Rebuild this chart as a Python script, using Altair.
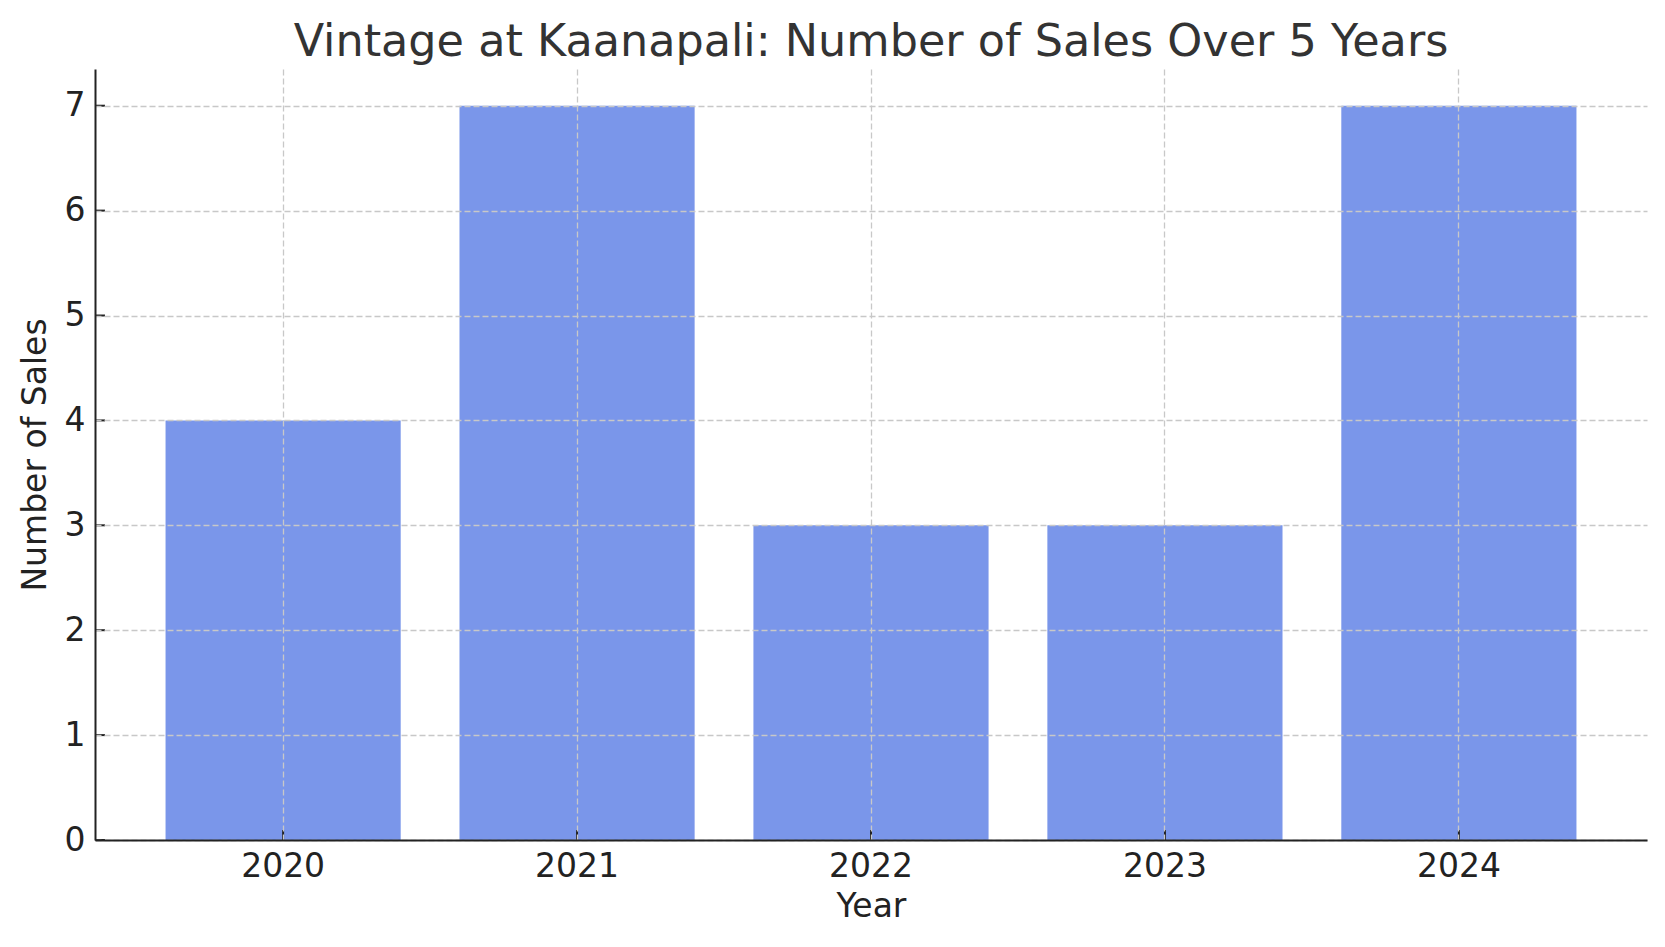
import altair as alt
import pandas as pd

years = ["2020", "2021", "2022", "2023", "2024"]
sales = [4, 7, 3, 3, 7]
y_tick_values = [0, 1, 2, 3, 4, 5, 6, 7]

df = pd.DataFrame({"Year": years, "Sales": sales})
yticks_df = pd.DataFrame({"v": y_tick_values})

FONT = "DejaVu Sans"
W, H = 1552, 771

x_scale = alt.Scale(domain=years, paddingInner=0.2, paddingOuter=0.24)
y_scale = alt.Scale(domain=[0, 7.35], nice=False, zero=True)

bars = alt.Chart(df).mark_bar(color="#7A96EA").encode(
    x=alt.X(
        "Year:N",
        scale=x_scale,
        sort=years,
        axis=alt.Axis(
            title="Year",
            labelAngle=0,
            labelFont=FONT,
            labelFontSize=33,
            labelColor="#222222",
            labelPadding=10,
            ticks=False,
            domainColor="#222222",
            domainWidth=2,
            grid=True,
            gridColor="#c8c8c8",
            gridDash=[6, 3],
            gridWidth=1.3,
            bandPosition=0.5,
            zindex=1,
            titleFont=FONT,
            titleFontSize=33,
            titleFontWeight="normal",
            titleColor="#222222",
            titlePadding=7,
        ),
    ),
    y=alt.Y(
        "Sales:Q",
        scale=y_scale,
        axis=alt.Axis(
            title="Number of Sales",
            values=y_tick_values,
            format="d",
            labelFont=FONT,
            labelFontSize=33,
            labelColor="#222222",
            labelPadding=10,
            ticks=False,
            domainColor="#222222",
            domainWidth=2,
            grid=True,
            gridColor="#c8c8c8",
            gridDash=[6, 3],
            gridWidth=1.3,
            zindex=1,
            titleFont=FONT,
            titleFontSize=33,
            titleFontWeight="normal",
            titleColor="#222222",
            titlePadding=12,
        ),
    ),
)

# inward ticks on y axis
ytick_marks = alt.Chart(yticks_df).mark_rule(color="#222222", strokeWidth=2).encode(
    y=alt.Y("v:Q", scale=y_scale),
    x=alt.value(0),
    x2=alt.value(10),
)

# inward ticks on x axis
xtick_marks = alt.Chart(df).mark_rule(color="#222222", strokeWidth=2).encode(
    x=alt.X("Year:N", scale=x_scale, sort=years),
    y=alt.value(H),
    y2=alt.value(H - 10),
)

chart = alt.layer(bars, ytick_marks, xtick_marks).properties(
    width=W,
    height=H,
    title=alt.TitleParams(
        "Vintage at Kaanapali: Number of Sales Over 5 Years",
        font=FONT,
        fontSize=44.5,
        fontWeight="normal",
        color="#333333",
        anchor="middle",
        baseline="bottom",
        offset=4,
        dy=44,
    ),
    autosize=alt.AutoSizeParams(type="none"),
    padding={"left": 87, "top": 61, "right": 10, "bottom": 95},
).configure(background="white").configure_view(stroke=None)

chart.save("out.html", embed_options={"renderer": "svg", "actions": False})
